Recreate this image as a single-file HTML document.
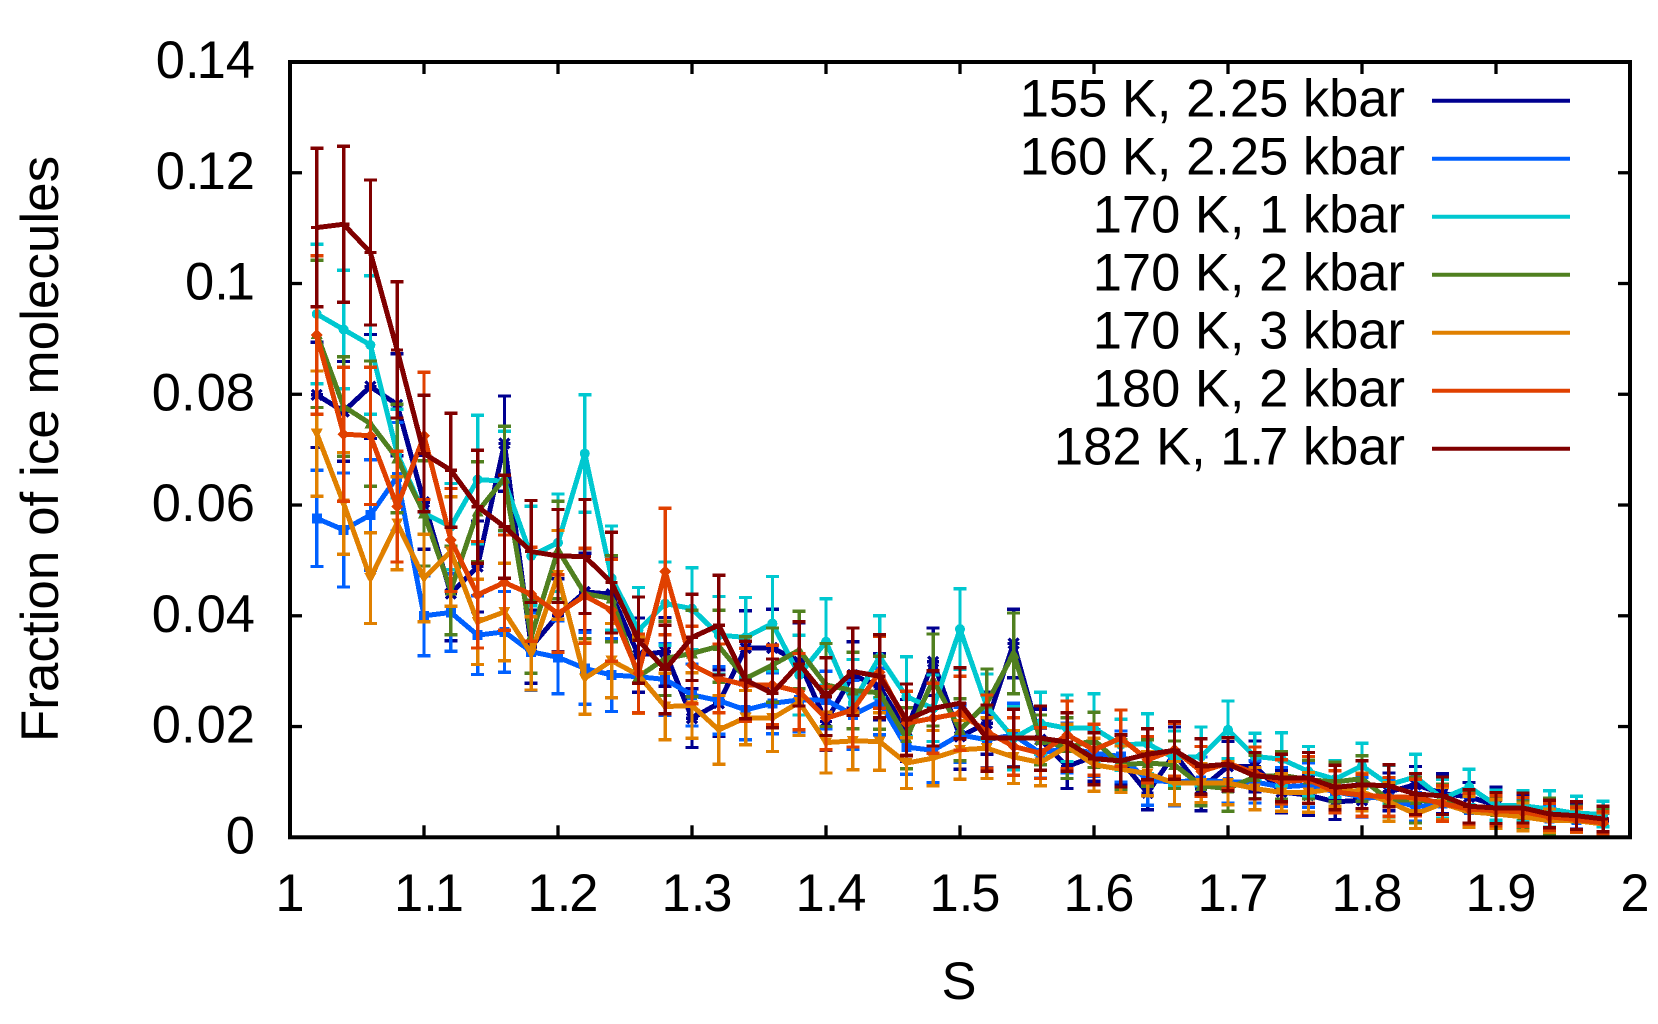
<!DOCTYPE html>
<html lang="en">
<head>
<meta charset="utf-8">
<title>Fraction of ice molecules vs S</title>
<style>
html,body{margin:0;padding:0;background:#fff;width:1658px;height:1024px;overflow:hidden}
svg{display:block}
text{font-family:"Liberation Sans",sans-serif;font-size:52.5px;fill:#000}
</style>
</head>
<body>
<svg id="chart" xmlns="http://www.w3.org/2000/svg" width="1658" height="1024" viewBox="0 0 1658 1024">
  <rect x="0" y="0" width="1658" height="1024" fill="#fff"/>
  <g id="marks"></g>
  <g id="ticks"></g>
  <rect id="frame" fill="none" stroke="#000" stroke-width="4"/>
  <g id="tick-labels"></g>
  <text transform="translate(58,449) rotate(-90)" text-anchor="middle" style="font-size:53px">Fraction of ice molecules</text>
  <text x="959" y="999" text-anchor="middle">S</text>
  <g id="legend"></g>
</svg>
<script>
const sValues = [1.02,1.04,1.06,1.08,1.10,1.12,1.14,1.16,1.18,1.20,1.22,1.24,1.26,1.28,1.30,1.32,1.34,1.36,1.38,1.40,1.42,1.44,1.46,1.48,1.50,1.52,1.54,1.56,1.58,1.60,1.62,1.64,1.66,1.68,1.70,1.72,1.74,1.76,1.78,1.80,1.82,1.84,1.86,1.88,1.90,1.92,1.94,1.96,1.98];
const xTickValues = [1,1.1,1.2,1.3,1.4,1.5,1.6,1.7,1.8,1.9,2];
const xTickLabels = ["1","1.1","1.2","1.3","1.4","1.5","1.6","1.7","1.8","1.9","2"];
const yTickValues = [0,0.02,0.04,0.06,0.08,0.1,0.12,0.14];
const yTickLabels = ["0","0.02","0.04","0.06","0.08","0.1","0.12","0.14"];

const vals155 = [.0799,.0769,.0814,.0781,.0605,.0440,.0489,.0711,.0344,.0401,.0443,.0439,.0329,.0335,.0215,.0242,.0342,.0342,.0317,.0209,.0293,.0272,.0193,.0317,.0182,.0206,.0350,.0176,.0128,.0146,.0139,.0080,.0151,.0088,.0128,.0128,.0082,.0076,.0064,.0067,.0082,.0095,.0079,.0073,.0058,.0049,.0037,.0037,.0028];
const errs155 = [.0095,.0090,.0094,.0092,.0085,.0085,.0082,.0086,.0066,.0066,.0070,.0068,.0067,.0062,.0053,.0060,.0067,.0070,.0070,.0052,.0060,.0060,.0056,.0061,.0059,.0056,.0062,.0055,.0040,.0045,.0045,.0030,.0048,.0040,.0045,.0046,.0038,.0036,.0032,.0030,.0034,.0033,.0036,.0026,.0033,.0025,.0022,.0022,.0018];

const vals160 = [.0576,.0555,.0582,.0651,.0400,.0406,.0365,.0371,.0335,.0325,.0305,.0293,.0290,.0285,.0257,.0247,.0230,.0242,.0248,.0248,.0221,.0245,.0163,.0157,.0185,.0176,.0185,.0152,.0161,.0152,.0146,.0103,.0100,.0103,.0100,.0100,.0091,.0094,.0082,.0073,.0070,.0055,.0061,.0049,.0050,.0046,.0034,.0031,.0025];
const errs160 = [.0087,.0103,.0100,.0098,.0072,.0070,.0071,.0073,.0070,.0066,.0065,.0066,.0066,.0065,.0056,.0061,.0054,.0055,.0058,.0052,.0062,.0060,.0049,.0058,.0050,.0050,.0057,.0045,.0045,.0042,.0046,.0045,.0043,.0042,.0038,.0038,.0035,.0040,.0038,.0035,.0033,.0026,.0030,.0024,.0026,.0024,.0022,.0021,.0018];

const vals170a = [.0945,.0917,.0889,.0693,.0585,.0561,.0646,.0643,.0508,.0532,.0693,.0468,.0374,.0422,.0413,.0365,.0361,.0386,.0293,.0353,.0242,.0326,.0254,.0233,.0376,.0236,.0179,.0206,.0197,.0197,.0167,.0169,.0143,.0146,.0194,.0146,.0141,.0119,.0105,.0129,.0095,.0109,.0070,.0091,.0058,.0057,.0051,.0043,.0042];
const errs170a = [.0126,.0107,.0125,.0080,.0095,.0078,.0116,.0090,.0090,.0088,.0106,.0094,.0077,.0075,.0074,.0070,.0072,.0085,.0072,.0078,.0079,.0074,.0072,.0060,.0073,.0059,.0057,.0056,.0060,.0062,.0046,.0054,.0049,.0053,.0052,.0042,.0048,.0045,.0033,.0041,.0035,.0041,.0035,.0032,.0027,.0027,.0033,.0031,.0023];

const vals170b = [.0909,.0778,.0747,.0684,.0585,.0446,.0588,.0648,.0362,.0519,.0440,.0431,.0290,.0323,.0332,.0345,.0287,.0311,.0338,.0275,.0265,.0261,.0179,.0284,.0194,.0242,.0332,.0176,.0161,.0176,.0131,.0134,.0131,.0093,.0088,.0109,.0112,.0104,.0100,.0106,.0067,.0067,.0064,.0052,.0046,.0040,.0037,.0034,.0031];
const errs170b = [.0133,.0090,.0113,.0098,.0095,.0080,.0090,.0094,.0066,.0088,.0081,.0078,.0066,.0067,.0078,.0065,.0075,.0067,.0070,.0075,.0069,.0066,.0055,.0083,.0056,.0062,.0073,.0045,.0055,.0050,.0045,.0042,.0043,.0036,.0041,.0039,.0043,.0035,.0036,.0041,.0030,.0041,.0032,.0028,.0026,.0025,.0034,.0022,.0021];

const vals170c = [.0729,.0603,.0468,.0567,.0468,.0516,.0389,.0407,.0332,.0474,.0287,.0319,.0293,.0236,.0238,.0194,.0216,.0215,.0244,.0171,.0174,.0173,.0134,.0143,.0158,.0161,.0145,.0135,.0164,.0131,.0123,.0115,.0098,.0098,.0098,.0088,.0081,.0081,.0088,.0082,.0064,.0042,.0061,.0046,.0042,.0037,.0030,.0030,.0024];
const errs170c = [.0113,.0092,.0082,.0084,.0079,.0099,.0077,.0088,.0066,.0080,.0065,.0067,.0069,.0060,.0059,.0062,.0049,.0060,.0060,.0055,.0052,.0052,.0046,.0050,.0053,.0055,.0048,.0042,.0040,.0048,.0042,.0040,.0039,.0035,.0039,.0038,.0034,.0036,.0032,.0034,.0035,.0026,.0029,.0028,.0026,.0025,.0021,.0021,.0020];

const vals180 = [.0907,.0728,.0725,.0597,.0725,.0537,.0438,.0460,.0439,.0404,.0436,.0410,.0296,.0480,.0311,.0287,.0275,.0275,.0263,.0215,.0230,.0298,.0206,.0215,.0224,.0191,.0164,.0152,.0185,.0158,.0179,.0140,.0158,.0119,.0134,.0116,.0100,.0104,.0082,.0076,.0073,.0072,.0061,.0051,.0048,.0046,.0037,.0032,.0026];
const errs180 = [.0143,.0121,.0124,.0100,.0115,.0093,.0096,.0086,.0085,.0070,.0086,.0092,.0071,.0114,.0070,.0062,.0066,.0072,.0069,.0057,.0067,.0065,.0058,.0063,.0067,.0066,.0052,.0046,.0061,.0046,.0051,.0042,.0048,.0045,.0046,.0047,.0040,.0042,.0038,.0038,.0035,.0033,.0032,.0028,.0027,.0026,.0024,.0022,.0020];

const vals182 = [.1101,.1107,.1056,.0880,.0693,.0663,.0597,.0561,.0516,.0508,.0507,.0460,.0356,.0303,.0361,.0383,.0284,.0260,.0313,.0254,.0299,.0291,.0212,.0233,.0242,.0179,.0179,.0179,.0172,.0142,.0138,.0150,.0157,.0128,.0132,.0111,.0107,.0107,.0090,.0095,.0093,.0078,.0075,.0056,.0053,.0053,.0042,.0039,.0033];
const errs182 = [.0143,.0141,.0131,.0123,.0105,.0103,.0102,.0093,.0092,.0084,.0103,.0091,.0078,.0080,.0078,.0090,.0070,.0062,.0076,.0070,.0079,.0075,.0065,.0068,.0064,.0060,.0052,.0058,.0053,.0047,.0047,.0046,.0052,.0050,.0048,.0042,.0043,.0046,.0040,.0043,.0038,.0037,.0034,.0030,.0028,.0027,.0025,.0025,.0023];

const seriesLabels = ["155 K, 2.25 kbar","160 K, 2.25 kbar","170 K, 1 kbar","170 K, 2 kbar","170 K, 3 kbar","180 K, 2 kbar","182 K, 1.7 kbar"];
const seriesValues = [vals155,vals160,vals170a,vals170b,vals170c,vals180,vals182];
const seriesErrors = [errs155,errs160,errs170a,errs170b,errs170c,errs180,errs182];
const seriesColors = ["#000090","#0060ff","#00c8d0","#508020","#e08000","#e04000","#800000"];
const seriesMarkers = ["star","square","circle","triangle-up","triangle-down","diamond","plus"];

const NS = "http://www.w3.org/2000/svg";
const plotLeft = 290, plotRight = 1630, plotTop = 62, plotBottom = 837.3;
const xMin = 1, xMax = 2, yMin = 0, yMax = 0.14;
function xScale(v){ return plotLeft + (v - xMin) / (xMax - xMin) * (plotRight - plotLeft); }
function yScale(v){ return plotBottom - (v - yMin) / (yMax - yMin) * (plotBottom - plotTop); }
function create(tag, parent){
  const el = document.createElementNS(NS, tag);
  parent.appendChild(el);
  return el;
}
function setAll(el, props){
  for (const k in props) el.setAttribute(k, props[k]);
}
// Puts the text after the "." in a tspan so the tighter spacing of the original font can be applied.
function kernedText(el, str, kernFn){
  const dot = str.indexOf(".");
  if (dot < 0) { el.textContent = str; return; }
  el.appendChild(document.createTextNode(str.slice(0, dot + 1)));
  const ts = create("tspan", el);
  ts.setAttribute("dx", kernFn(str[dot - 1], str[dot + 1]));
  ts.textContent = str.slice(dot + 1);
}

const frame = document.getElementById("frame");
setAll(frame, {x: plotLeft, y: plotTop, width: plotRight - plotLeft, height: plotBottom - plotTop});

const ticksG = document.getElementById("ticks");
const labelsG = document.getElementById("tick-labels");
const tickLen = 12;
xTickValues.forEach((v, i) => {
  const x = xScale(v);
  [[plotBottom, plotBottom - tickLen], [plotTop, plotTop + tickLen]].forEach(pair => {
    const t = create("line", ticksG);
    
    
    setAll(t, {x1: x, x2: x, y1: pair[0], y2: pair[1], stroke: "#000", "stroke-width": 3.3});
  });
  const lab = create("text", labelsG);
  
  
  setAll(lab, {x: xTickLabels[i] === "1" ? x : x + 5, y: 911, "text-anchor": "middle"});
  kernedText(lab, xTickLabels[i], (before, after) => after === "1" ? -3 : -2);
});
yTickValues.forEach((v, i) => {
  const y = yScale(v);
  [[plotLeft, plotLeft + tickLen], [plotRight, plotRight - tickLen]].forEach(pair => {
    const t = create("line", ticksG);
    
    
    setAll(t, {x1: pair[0], x2: pair[1], y1: y, y2: y, stroke: "#000", "stroke-width": 3.3});
  });
  const lab = create("text", labelsG);
  
  
  setAll(lab, {x: 255, y: y + 16, "text-anchor": "end"});
  kernedText(lab, yTickLabels[i], (before, after) => after === "1" ? -3 : 1);
});

function drawMarker(parent, kind, x, y, color){
  const r = 5;
  if (kind === "circle") {
    const c = create("circle", parent);
    
    
    setAll(c, {cx: x, cy: y, r: r, fill: color});
  } else if (kind === "square") {
    const s = create("rect", parent);
    
    
    setAll(s, {x: x - r, y: y - r, width: 2 * r, height: 2 * r, fill: color});
  } else if (kind === "triangle-up" || kind === "triangle-down" || kind === "diamond") {
    const p = create("polygon", parent);
    
    
    let pts;
    if (kind === "triangle-up") pts = [[x, y - r - 1], [x + r + 1, y + r], [x - r - 1, y + r]];
    else if (kind === "triangle-down") pts = [[x, y + r + 1], [x + r + 1, y - r], [x - r - 1, y - r]];
    else pts = [[x, y - r - 1], [x + r + 1, y], [x, y + r + 1], [x - r - 1, y]];
    setAll(p, {points: pts.map(q => q.join(",")).join(" "), fill: color});
  } else {
    const p = create("path", parent);
    
    
    let d = `M${x - r - 1} ${y}H${x + r + 1}M${x} ${y - r - 1}V${y + r + 1}`;
    if (kind === "star") d += `M${x - r} ${y - r}L${x + r} ${y + r}M${x - r} ${y + r}L${x + r} ${y - r}`;
    setAll(p, {d: d, fill: "none", stroke: color, "stroke-width": 3.3});
  }
}

const marksG = document.getElementById("marks");
marksG.setAttribute("shape-rendering", "crispEdges");
const capHalf = 6.5;
seriesValues.forEach((vals, si) => {
  const color = seriesColors[si];
  const errs = seriesErrors[si];
  const g = create("g", marksG);
  
  
  sValues.forEach((s, i) => {
    const x = xScale(s);
    const hi = yScale(vals[i] + errs[i]);
    const lo = yScale(vals[i] - errs[i]);
    const bar = create("path", g);
    
    
    setAll(bar, {d: `M${x} ${hi}V${lo}M${x - capHalf} ${hi}H${x + capHalf}M${x - capHalf} ${lo}H${x + capHalf}`, fill: "none", stroke: color, "stroke-width": 3.3});
  });
  const line = create("polyline", g);
  
  
  setAll(line, {points: sValues.map((s, i) => xScale(s) + "," + yScale(vals[i])).join(" "), fill: "none", stroke: color, "stroke-width": 5, "stroke-linejoin": "miter"});
  sValues.forEach((s, i) => {
    drawMarker(g, seriesMarkers[si], xScale(s), yScale(vals[i]), color);
  });
});

const legendG = document.getElementById("legend");
const legendFirstY = 100.7, legendStep = 58;
seriesLabels.forEach((label, i) => {
  const y = legendFirstY + i * legendStep;
  const t = create("text", legendG);
  
  
  setAll(t, {x: 1405, y: y + 16, "text-anchor": "end"});
  kernedText(t, label, (before, after) => before === "1" ? -5 : 0);
  const l = create("line", legendG);
  
  
  setAll(l, {x1: 1432, x2: 1570, y1: y, y2: y, stroke: seriesColors[i], "stroke-width": 4});
});
</script>
</body>
</html>
